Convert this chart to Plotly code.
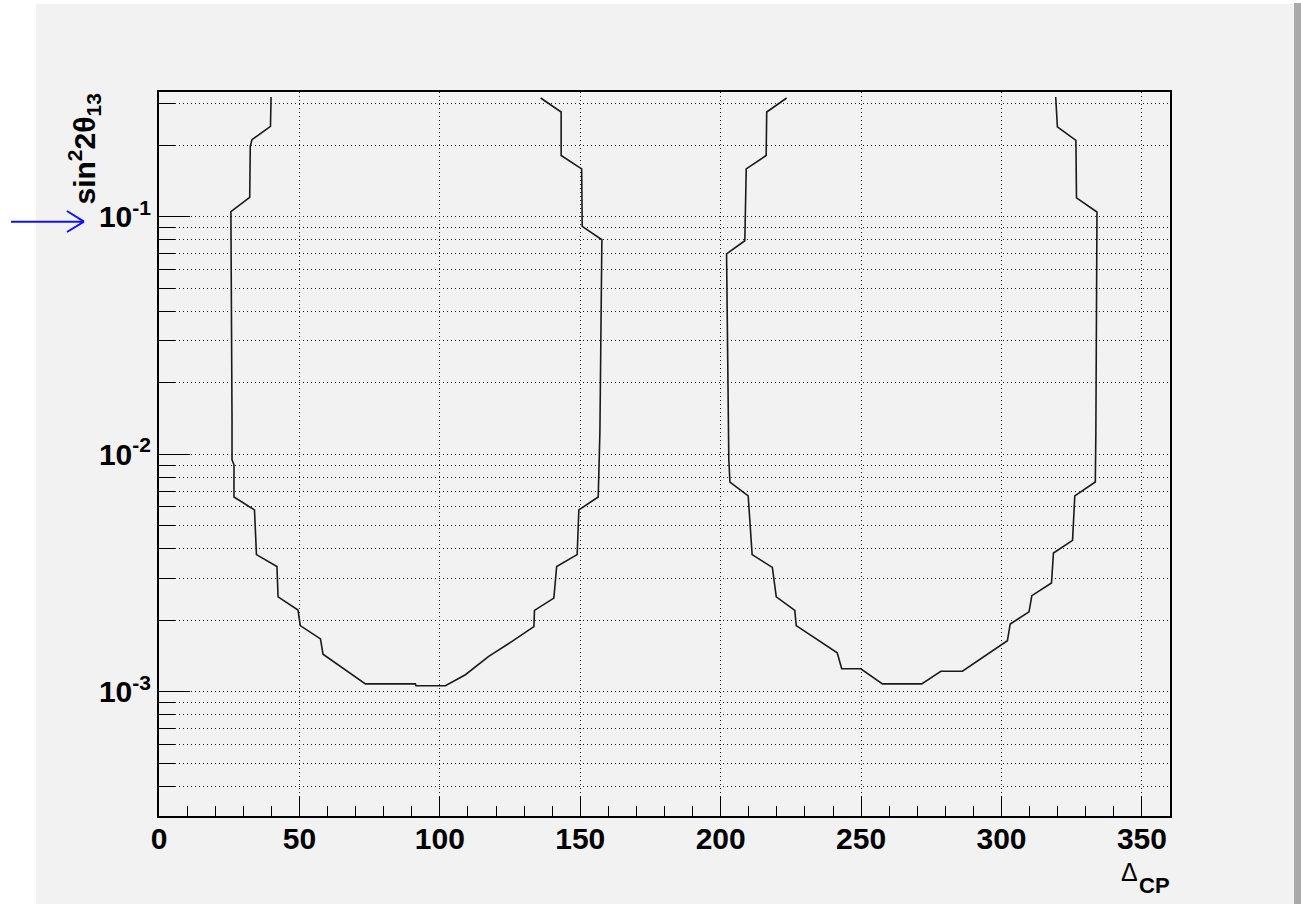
import plotly.graph_objects as go

# ---- data: contour (two closed regions) ----
delta_cp_a = [39.9, 39.7, 33.1, 32.5, 32.3, 25.6, 26.0, 26.0, 26.7, 26.7, 34.0, 34.3, 34.7,
              42.0, 42.4, 49.5, 50.3, 57.5, 58.4, 73.5, 91.3, 91.5, 102.0, 109.1, 117.4,
              125.7, 133.5, 133.7, 140.6, 141.6, 148.9, 149.5, 156.4, 157.0, 157.7, 150.7,
              150.5, 143.2, 143.2, 135.9]
sin2_a = [0.319, 0.240, 0.211, 0.198, 0.1205, 0.105, 0.01396, 0.00948, 0.00903, 0.00661,
          0.00583, 0.00466, 0.00378, 0.00337, 0.00251, 0.00221, 0.00190, 0.00167, 0.00144,
          0.00108, 0.00108, 0.00106, 0.00106, 0.00118, 0.00141, 0.00163, 0.00188, 0.00220,
          0.00248, 0.00337, 0.00378, 0.00583, 0.00661, 0.01247, 0.0800, 0.0910, 0.159,
          0.181, 0.276, 0.316]

delta_cp_b = [223.5, 216.4, 216.2, 209.1, 208.6, 202.1, 202.9, 203.3, 209.8, 210.7, 211.2,
              218.4, 219.8, 226.4, 226.9, 241.5, 243.1, 249.9, 257.6, 271.6, 278.4, 286.1,
              302.1, 303.1, 309.8, 310.8, 317.8, 318.5, 325.3, 326.1, 333.4, 333.6, 334.0,
              326.7, 326.5, 319.9, 319.7, 319.3]
sin2_b = [0.316, 0.276, 0.181, 0.159, 0.0792, 0.0698, 0.00948, 0.00764, 0.00668, 0.00466,
          0.00378, 0.00334, 0.00251, 0.00220, 0.00190, 0.00146, 0.00125, 0.00125, 0.00108,
          0.00108, 0.00122, 0.00122, 0.00164, 0.00193, 0.00217, 0.00254, 0.00287, 0.00384,
          0.00434, 0.00668, 0.00764, 0.01228, 0.1047, 0.120, 0.2095, 0.239, 0.2576, 0.319]

x_ticks = [0, 50, 100, 150, 200, 250, 300, 350]
x_tick_labels = ["0", "50", "100", "150", "200", "250", "300", "350"]
y_ticks = [1e-3, 1e-2, 1e-1]
y_tick_labels = ["10<sup>-3</sup>", "10<sup>-2</sup>", "10<sup>-1</sup>"]
y_minor_mult = [2, 3, 4, 5, 6, 7, 8, 9]
y_decades = [1e-4, 1e-3, 1e-2, 1e-1]

x_range = [0, 360]
y_range_log = [-3.5229, -0.4750]

# ---- figure geometry (pixels) ----
W, H = 1301, 904
L, R, T, B = 159, 131, 92, 88
PW, PH = W - L - R, H - T - B

def px(xp):
    return (xp - L) / PW

def py(yp):
    return (H - B - yp) / PH

y_minor = [m * d for d in y_decades for m in y_minor_mult
           if 3e-4 * 0.999 <= m * d <= 0.335]

BG = "#f2f2f2"
FONT = "Liberation Sans"
GRID = "#1e1e1e"
GRID_DASH = "1px,3px"

fig = go.Figure()
for xs, ys in [(delta_cp_a, sin2_a), (delta_cp_b, sin2_b)]:
    fig.add_trace(go.Scatter(x=xs, y=ys, mode="lines",
                             line=dict(color="#1a1a1a", width=1.6),
                             showlegend=False, hoverinfo="skip"))

fig.update_layout(
    width=W, height=H,
    margin=dict(l=L, r=R, t=T, b=B, pad=0),
    paper_bgcolor=BG, plot_bgcolor=BG,
    showlegend=False,
    font=dict(family=FONT, color="black"),
)

fig.update_xaxes(
    range=x_range, tickmode="array", tickvals=x_ticks, ticktext=x_tick_labels,
    ticks="inside", ticklen=20, tickwidth=1.3, tickcolor="black",
    tickfont=dict(family=FONT, size=30, weight="bold", color="black"),
    ticklabelstandoff=-5,
    showline=True, linecolor="black", linewidth=2, mirror=True,
    showgrid=True, gridcolor=GRID, griddash=GRID_DASH, gridwidth=1,
    zeroline=False,
    minor=dict(dtick=10, tick0=0, ticks="inside", ticklen=10, tickwidth=1.3,
               tickcolor="black", showgrid=False),
)

fig.update_yaxes(
    type="log", range=y_range_log, tickmode="array", tickvals=y_ticks,
    ticktext=y_tick_labels,
    ticks="inside", ticklen=31, tickwidth=1.3, tickcolor="black",
    tickfont=dict(family=FONT, size=30, weight="bold", color="black"),
    showline=True, linecolor="black", linewidth=2, mirror=True,
    showgrid=True, gridcolor=GRID, griddash=GRID_DASH, gridwidth=1,
    zeroline=False,
    minor=dict(tickmode="array", tickvals=y_minor, ticks="inside", ticklen=16,
               tickwidth=1.3, tickcolor="black", showgrid=True,
               gridcolor=GRID, griddash=GRID_DASH, gridwidth=1),
)

# canvas frame: white strips on the left/top, darker bar on the right
shapes = [
    dict(type="rect", xref="paper", yref="paper", x0=px(0), x1=px(36), y0=py(H), y1=py(0),
         fillcolor="white", line=dict(width=0), layer="below"),
    dict(type="rect", xref="paper", yref="paper", x0=px(0), x1=px(W), y0=py(4), y1=py(0),
         fillcolor="white", line=dict(width=0), layer="below"),
    dict(type="rect", xref="paper", yref="paper", x0=px(1294), x1=px(W), y0=py(H), y1=py(3),
         fillcolor="#a9a9a9", line=dict(width=0), layer="below"),
    # blue arrow pointing at 10^-1
    dict(type="line", xref="paper", yref="paper", x0=px(11), x1=px(84), y0=py(221.7), y1=py(221.7),
         line=dict(color="#1010ff", width=2)),
    dict(type="line", xref="paper", yref="paper", x0=px(67), x1=px(84), y0=py(211), y1=py(221.7),
         line=dict(color="#1010ff", width=2)),
    dict(type="line", xref="paper", yref="paper", x0=px(67), x1=px(84), y0=py(232), y1=py(221.7),
         line=dict(color="#1010ff", width=2)),
]
fig.update_layout(shapes=shapes)

annotations = [
    dict(text="sin<sup>2</sup>2θ<sub>13</sub>", xref="paper", yref="paper",
         x=px(84), y=py(92), xanchor="center", yanchor="top", textangle=-90,
         showarrow=False, font=dict(family=FONT, size=30, weight="bold", color="black")),
    dict(text="Δ", xref="paper", yref="paper", x=px(1140), y=py(872),
         xanchor="right", yanchor="middle", showarrow=False,
         font=dict(family=FONT, size=25, color="black")),
    dict(text="CP", xref="paper", yref="paper", x=px(1172), y=py(885),
         xanchor="right", yanchor="middle", showarrow=False,
         font=dict(family=FONT, size=22, weight="bold", color="black")),
]
fig.update_layout(annotations=annotations)

fig.write_html("out.html")
